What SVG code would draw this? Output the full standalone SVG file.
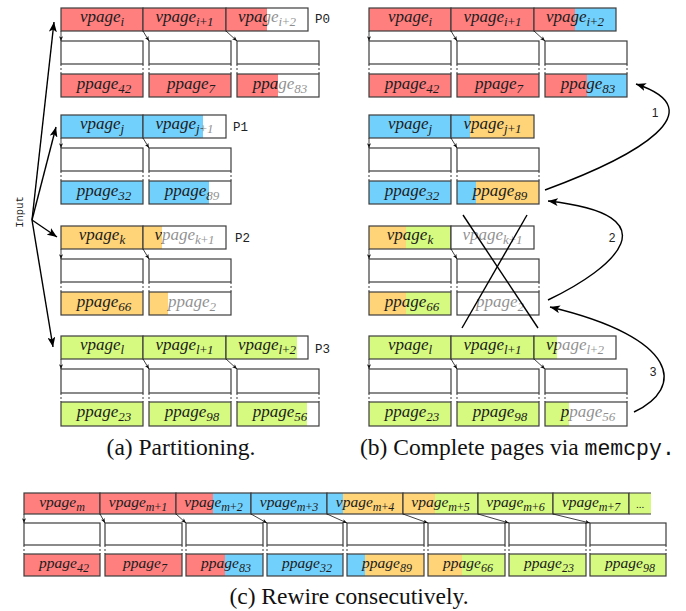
<svg xmlns="http://www.w3.org/2000/svg" width="686" height="611" viewBox="0 0 686 611">
<defs>
<marker id="ah" viewBox="0 0 10 8" refX="10" refY="4" markerWidth="10" markerHeight="8" markerUnits="userSpaceOnUse" orient="auto"><path d="M0,0 L10,4 L0,8 L2.5,4 z" fill="#000"/></marker>
<marker id="sa" viewBox="0 0 6 5" refX="6" refY="2.5" markerWidth="5" markerHeight="4" markerUnits="userSpaceOnUse" orient="auto"><path d="M0,0 L6,2.5 L0,5 L1.5,2.5 z" fill="#111"/></marker>
<style>
.w{fill:#fff}
.r{fill:#ff7f7f}
.b{fill:#72d0fc}
.o{fill:#ffd478}
.g{fill:#d6fa7f}
.f{fill:#fff;fill-opacity:.5}
.bx{fill:none;stroke:#3c3c3c;stroke-width:1.2}
.mb{fill:#fff;stroke:#3c3c3c;stroke-width:1.2}
.t{font-family:"Liberation Serif",serif;font-style:italic;font-size:17px;fill:#1c1c1c;text-anchor:middle}
.tc{font-size:15.5px}
.s{font-size:13px}
.sc{font-size:12px}
.u{font-style:normal}
.dl{stroke:#3c3c3c;stroke-width:1;stroke-dasharray:2 2;fill:none}
.sm{stroke:#111;stroke-width:0.8;fill:none;marker-end:url(#sa)}
.ar{stroke:#000;stroke-width:1.4;fill:none;marker-end:url(#ah)}
.mono{font-family:"Liberation Mono",monospace;fill:#222}
.cap{font-family:"Liberation Serif",serif;font-size:23.5px;fill:#111}
.num{font-family:"Liberation Sans",sans-serif;font-size:12px;fill:#222;text-anchor:middle}
</style>
</defs>

<!-- ================= Panel (a) ================= -->
<g id="panel-a">
<!-- P0 -->
<g id="a0-v0"><rect class="r" x="61" y="8" width="82" height="23"/><text class="t" x="102" y="22">vpage<tspan class="s" dy="4">i</tspan></text><rect class="bx" x="61" y="8" width="82" height="23"/></g>
<g id="a0-v1"><rect class="r" x="143" y="8" width="83" height="23"/><text class="t" x="184.5" y="22">vpage<tspan class="s" dy="4">i<tspan class="u">+</tspan>1</tspan></text><rect class="bx" x="143" y="8" width="83" height="23"/></g>
<g id="a0-v2"><rect class="w" x="226" y="8" width="82" height="23"/><rect class="r" x="226" y="8" width="41" height="23"/><text class="t" x="267" y="22">vpage<tspan class="s" dy="4">i<tspan class="u">+</tspan>2</tspan></text><rect class="f" x="267" y="8" width="41" height="23"/><rect class="bx" x="226" y="8" width="82" height="23"/></g>
<g id="a0-m0"><rect class="mb" x="61" y="41" width="82" height="23"/></g>
<g id="a0-m1"><rect class="mb" x="149" y="41" width="82" height="23"/></g>
<g id="a0-m2"><rect class="mb" x="237" y="41" width="82" height="23"/></g>
<g id="a0-p0"><rect class="r" x="61" y="74" width="82" height="23"/><text class="t" x="104" y="88.5">ppage<tspan class="s" dy="4">42</tspan></text><rect class="bx" x="61" y="74" width="82" height="23"/></g>
<g id="a0-p1"><rect class="r" x="149" y="74" width="82" height="23"/><text class="t" x="191" y="88.5">ppage<tspan class="s" dy="4">7</tspan></text><rect class="bx" x="149" y="74" width="82" height="23"/></g>
<g id="a0-p2"><rect class="w" x="237" y="74" width="82" height="23"/><rect class="r" x="237" y="74" width="41" height="23"/><text class="t" x="280" y="88.5">ppage<tspan class="s" dy="4">83</tspan></text><rect class="f" x="278" y="74" width="41" height="23"/><rect class="bx" x="237" y="74" width="82" height="23"/></g>
<text class="mono" x="315" y="23" font-size="12.5">P0</text>

<!-- P1 -->
<g id="a1-v0"><rect class="b" x="61" y="115" width="82" height="23"/><text class="t" x="102" y="129">vpage<tspan class="s" dy="4">j</tspan></text><rect class="bx" x="61" y="115" width="82" height="23"/></g>
<g id="a1-v1"><rect class="w" x="143" y="115" width="83" height="23"/><rect class="b" x="143" y="115" width="60" height="23"/><text class="t" x="184.5" y="129">vpage<tspan class="s" dy="4">j<tspan class="u">+</tspan>1</tspan></text><rect class="f" x="203" y="115" width="23" height="23"/><rect class="bx" x="143" y="115" width="83" height="23"/></g>
<g id="a1-m0"><rect class="mb" x="61" y="148" width="82" height="23"/></g>
<g id="a1-m1"><rect class="mb" x="149" y="148" width="82" height="23"/></g>
<g id="a1-p0"><rect class="b" x="61" y="181" width="82" height="23"/><text class="t" x="104" y="195.5">ppage<tspan class="s" dy="4">32</tspan></text><rect class="bx" x="61" y="181" width="82" height="23"/></g>
<g id="a1-p1"><rect class="w" x="149" y="181" width="82" height="23"/><rect class="b" x="149" y="181" width="60" height="23"/><text class="t" x="192" y="195.5">ppage<tspan class="s" dy="4">89</tspan></text><rect class="f" x="209" y="181" width="22" height="23"/><rect class="bx" x="149" y="181" width="82" height="23"/></g>
<text class="mono" x="233" y="131" font-size="12.5">P1</text>

<!-- P2 -->
<g id="a2-v0"><rect class="o" x="61" y="226" width="82" height="23"/><text class="t" x="102" y="240">vpage<tspan class="s" dy="4">k</tspan></text><rect class="bx" x="61" y="226" width="82" height="23"/></g>
<g id="a2-v1"><rect class="w" x="143" y="226" width="83" height="23"/><rect class="o" x="143" y="226" width="19" height="23"/><text class="t" x="184.5" y="240">vpage<tspan class="s" dy="4">k<tspan class="u">+</tspan>1</tspan></text><rect class="f" x="162" y="226" width="64" height="23"/><rect class="bx" x="143" y="226" width="83" height="23"/></g>
<g id="a2-m0"><rect class="mb" x="61" y="259" width="82" height="23"/></g>
<g id="a2-m1"><rect class="mb" x="149" y="259" width="82" height="23"/></g>
<g id="a2-p0"><rect class="o" x="61" y="292" width="82" height="23"/><text class="t" x="104" y="306.5">ppage<tspan class="s" dy="4">66</tspan></text><rect class="bx" x="61" y="292" width="82" height="23"/></g>
<g id="a2-p1"><rect class="w" x="149" y="292" width="82" height="23"/><rect class="o" x="149" y="292" width="19" height="23"/><text class="t" x="192" y="306.5">ppage<tspan class="s" dy="4">2</tspan></text><rect class="f" x="168" y="292" width="63" height="23"/><rect class="bx" x="149" y="292" width="82" height="23"/></g>
<text class="mono" x="235" y="242" font-size="12.5">P2</text>

<!-- P3 -->
<g id="a3-v0"><rect class="g" x="61" y="336" width="82" height="23"/><text class="t" x="102" y="350">vpage<tspan class="s" dy="4">l</tspan></text><rect class="bx" x="61" y="336" width="82" height="23"/></g>
<g id="a3-v1"><rect class="g" x="143" y="336" width="83" height="23"/><text class="t" x="184.5" y="350">vpage<tspan class="s" dy="4">l<tspan class="u">+</tspan>1</tspan></text><rect class="bx" x="143" y="336" width="83" height="23"/></g>
<g id="a3-v2"><rect class="w" x="226" y="336" width="82" height="23"/><rect class="g" x="226" y="336" width="71" height="23"/><text class="t" x="267" y="350">vpage<tspan class="s" dy="4">l<tspan class="u">+</tspan>2</tspan></text><rect class="f" x="297" y="336" width="11" height="23"/><rect class="bx" x="226" y="336" width="82" height="23"/></g>
<g id="a3-m0"><rect class="mb" x="61" y="369" width="82" height="24"/></g>
<g id="a3-m1"><rect class="mb" x="149" y="369" width="82" height="24"/></g>
<g id="a3-m2"><rect class="mb" x="237" y="369" width="82" height="24"/></g>
<g id="a3-p0"><rect class="g" x="61" y="402" width="82" height="24"/><text class="t" x="104" y="417">ppage<tspan class="s" dy="4">23</tspan></text><rect class="bx" x="61" y="402" width="82" height="24"/></g>
<g id="a3-p1"><rect class="g" x="149" y="402" width="82" height="24"/><text class="t" x="192" y="417">ppage<tspan class="s" dy="4">98</tspan></text><rect class="bx" x="149" y="402" width="82" height="24"/></g>
<g id="a3-p2"><rect class="w" x="237" y="402" width="82" height="24"/><rect class="g" x="237" y="402" width="70" height="24"/><text class="t" x="280" y="417">ppage<tspan class="s" dy="4">56</tspan></text><rect class="f" x="307" y="402" width="12" height="24"/><rect class="bx" x="237" y="402" width="82" height="24"/></g>
<text class="mono" x="315" y="353" font-size="12.5">P3</text>

<text class="mono" font-size="10.5" text-anchor="middle" transform="translate(23,212) rotate(-90)">Input</text>
</g>

<!-- ================= Panel (b) ================= -->
<g id="panel-b">
<!-- P0 -->
<g id="b0-v0"><rect class="r" x="369" y="8" width="82" height="23"/><text class="t" x="410" y="22">vpage<tspan class="s" dy="4">i</tspan></text><rect class="bx" x="369" y="8" width="82" height="23"/></g>
<g id="b0-v1"><rect class="r" x="451" y="8" width="83" height="23"/><text class="t" x="492.5" y="22">vpage<tspan class="s" dy="4">i<tspan class="u">+</tspan>1</tspan></text><rect class="bx" x="451" y="8" width="83" height="23"/></g>
<g id="b0-v2"><rect class="b" x="534" y="8" width="82" height="23"/><rect class="r" x="534" y="8" width="41" height="23"/><text class="t" x="575" y="22">vpage<tspan class="s" dy="4">i<tspan class="u">+</tspan>2</tspan></text><rect class="bx" x="534" y="8" width="82" height="23"/></g>
<g id="b0-m0"><rect class="mb" x="369" y="41" width="82" height="23"/></g>
<g id="b0-m1"><rect class="mb" x="457" y="41" width="82" height="23"/></g>
<g id="b0-m2"><rect class="mb" x="545" y="41" width="82" height="23"/></g>
<g id="b0-p0"><rect class="r" x="369" y="74" width="82" height="23"/><text class="t" x="412" y="88.5">ppage<tspan class="s" dy="4">42</tspan></text><rect class="bx" x="369" y="74" width="82" height="23"/></g>
<g id="b0-p1"><rect class="r" x="457" y="74" width="82" height="23"/><text class="t" x="499" y="88.5">ppage<tspan class="s" dy="4">7</tspan></text><rect class="bx" x="457" y="74" width="82" height="23"/></g>
<g id="b0-p2"><rect class="b" x="545" y="74" width="82" height="23"/><rect class="r" x="545" y="74" width="42" height="23"/><text class="t" x="588" y="88.5">ppage<tspan class="s" dy="4">83</tspan></text><rect class="bx" x="545" y="74" width="82" height="23"/></g>

<!-- P1 -->
<g id="b1-v0"><rect class="b" x="369" y="115" width="82" height="23"/><text class="t" x="410" y="129">vpage<tspan class="s" dy="4">j</tspan></text><rect class="bx" x="369" y="115" width="82" height="23"/></g>
<g id="b1-v1"><rect class="o" x="451" y="115" width="83" height="23"/><rect class="b" x="451" y="115" width="19" height="23"/><text class="t" x="492.5" y="129">vpage<tspan class="s" dy="4">j<tspan class="u">+</tspan>1</tspan></text><rect class="bx" x="451" y="115" width="83" height="23"/></g>
<g id="b1-m0"><rect class="mb" x="369" y="148" width="82" height="23"/></g>
<g id="b1-m1"><rect class="mb" x="457" y="148" width="82" height="23"/></g>
<g id="b1-p0"><rect class="b" x="369" y="181" width="82" height="23"/><text class="t" x="412" y="195.5">ppage<tspan class="s" dy="4">32</tspan></text><rect class="bx" x="369" y="181" width="82" height="23"/></g>
<g id="b1-p1"><rect class="o" x="457" y="181" width="82" height="23"/><rect class="b" x="457" y="181" width="19" height="23"/><text class="t" x="500" y="195.5">ppage<tspan class="s" dy="4">89</tspan></text><rect class="bx" x="457" y="181" width="82" height="23"/></g>

<!-- P2 -->
<g id="b2-v0"><rect class="g" x="369" y="226" width="82" height="23"/><rect class="o" x="369" y="226" width="37" height="23"/><text class="t" x="410" y="240">vpage<tspan class="s" dy="4">k</tspan></text><rect class="bx" x="369" y="226" width="82" height="23"/></g>
<g id="b2-v1"><rect class="w" x="451" y="226" width="83" height="23"/><text class="t" x="492.5" y="240">vpage<tspan class="s" dy="4">k<tspan class="u">+</tspan>1</tspan></text><rect class="f" x="451" y="226" width="83" height="23"/><rect class="bx" x="451" y="226" width="83" height="23"/></g>
<g id="b2-m0"><rect class="mb" x="369" y="259" width="82" height="23"/></g>
<g id="b2-m1"><rect class="mb" x="457" y="259" width="82" height="23"/></g>
<g id="b2-p0"><rect class="g" x="369" y="292" width="82" height="23"/><rect class="o" x="369" y="292" width="37" height="23"/><text class="t" x="412" y="306.5">ppage<tspan class="s" dy="4">66</tspan></text><rect class="bx" x="369" y="292" width="82" height="23"/></g>
<g id="b2-p1"><rect class="w" x="457" y="292" width="82" height="23"/><text class="t" x="500" y="306.5">ppage<tspan class="s" dy="4">2</tspan></text><rect class="f" x="457" y="292" width="82" height="23"/><rect class="bx" x="457" y="292" width="82" height="23"/></g>

<!-- P3 -->
<g id="b3-v0"><rect class="g" x="369" y="336" width="82" height="23"/><text class="t" x="410" y="350">vpage<tspan class="s" dy="4">l</tspan></text><rect class="bx" x="369" y="336" width="82" height="23"/></g>
<g id="b3-v1"><rect class="g" x="451" y="336" width="83" height="23"/><text class="t" x="492.5" y="350">vpage<tspan class="s" dy="4">l<tspan class="u">+</tspan>1</tspan></text><rect class="bx" x="451" y="336" width="83" height="23"/></g>
<g id="b3-v2"><rect class="w" x="534" y="336" width="82" height="23"/><rect class="g" x="534" y="336" width="23" height="23"/><text class="t" x="575" y="350">vpage<tspan class="s" dy="4">l<tspan class="u">+</tspan>2</tspan></text><rect class="f" x="557" y="336" width="59" height="23"/><rect class="bx" x="534" y="336" width="82" height="23"/></g>
<g id="b3-m0"><rect class="mb" x="369" y="369" width="82" height="24"/></g>
<g id="b3-m1"><rect class="mb" x="457" y="369" width="82" height="24"/></g>
<g id="b3-m2"><rect class="mb" x="545" y="369" width="82" height="24"/></g>
<g id="b3-p0"><rect class="g" x="369" y="402" width="82" height="24"/><text class="t" x="412" y="417">ppage<tspan class="s" dy="4">23</tspan></text><rect class="bx" x="369" y="402" width="82" height="24"/></g>
<g id="b3-p1"><rect class="g" x="457" y="402" width="82" height="24"/><text class="t" x="500" y="417">ppage<tspan class="s" dy="4">98</tspan></text><rect class="bx" x="457" y="402" width="82" height="24"/></g>
<g id="b3-p2"><rect class="w" x="545" y="402" width="82" height="24"/><rect class="g" x="545" y="402" width="24" height="24"/><text class="t" x="588" y="417">ppage<tspan class="s" dy="4">56</tspan></text><rect class="f" x="569" y="402" width="58" height="24"/><rect class="bx" x="545" y="402" width="82" height="24"/></g>

<g id="crossout" stroke="#000" stroke-width="1.4">
<line x1="463" y1="215" x2="538" y2="328"/>
<line x1="527" y1="215" x2="462" y2="328"/>
</g>
</g>

<!-- ================= Panel (c) ================= -->
<g id="panel-c">
<g id="c-v0"><rect class="r" x="24" y="493" width="76" height="21"/><text class="t tc" x="62" y="506.5">vpage<tspan class="sc" dy="4">m</tspan></text><rect class="bx" x="24" y="493" width="76" height="21"/></g>
<g id="c-v1"><rect class="r" x="100" y="493" width="76" height="21"/><text class="t tc" x="138" y="506.5">vpage<tspan class="sc" dy="4">m<tspan class="u">+</tspan>1</tspan></text><rect class="bx" x="100" y="493" width="76" height="21"/></g>
<g id="c-v2"><rect class="b" x="176" y="493" width="75" height="21"/><rect class="r" x="176" y="493" width="37" height="21"/><text class="t tc" x="213.5" y="506.5">vpage<tspan class="sc" dy="4">m<tspan class="u">+</tspan>2</tspan></text><rect class="bx" x="176" y="493" width="75" height="21"/></g>
<g id="c-v3"><rect class="b" x="251" y="493" width="76" height="21"/><text class="t tc" x="289" y="506.5">vpage<tspan class="sc" dy="4">m<tspan class="u">+</tspan>3</tspan></text><rect class="bx" x="251" y="493" width="76" height="21"/></g>
<g id="c-v4"><rect class="o" x="327" y="493" width="76" height="21"/><rect class="b" x="327" y="493" width="16" height="21"/><text class="t tc" x="365" y="506.5">vpage<tspan class="sc" dy="4">m<tspan class="u">+</tspan>4</tspan></text><rect class="bx" x="327" y="493" width="76" height="21"/></g>
<g id="c-v5"><rect class="g" x="403" y="493" width="75" height="21"/><rect class="o" x="403" y="493" width="32" height="21"/><text class="t tc" x="440.5" y="506.5">vpage<tspan class="sc" dy="4">m<tspan class="u">+</tspan>5</tspan></text><rect class="bx" x="403" y="493" width="75" height="21"/></g>
<g id="c-v6"><rect class="g" x="478" y="493" width="75" height="21"/><text class="t tc" x="515.5" y="506.5">vpage<tspan class="sc" dy="4">m<tspan class="u">+</tspan>6</tspan></text><rect class="bx" x="478" y="493" width="75" height="21"/></g>
<g id="c-v7"><rect class="g" x="553" y="493" width="76" height="21"/><text class="t tc" x="591" y="506.5">vpage<tspan class="sc" dy="4">m<tspan class="u">+</tspan>7</tspan></text><rect class="bx" x="553" y="493" width="76" height="21"/></g>
<g id="c-v8"><rect class="g" x="629" y="493" width="22" height="21"/><text x="640" y="508" font-family="Liberation Serif, serif" font-size="11" fill="#222" text-anchor="middle">...</text><path d="M629,493 H651 M629,514 H651 M629,493 V514" fill="none" stroke="#3c3c3c" stroke-width="1.2"/></g>

<g id="c-m0"><rect class="mb" x="24" y="523" width="76" height="22"/></g>
<g id="c-m1"><rect class="mb" x="105" y="523" width="77" height="22"/></g>
<g id="c-m2"><rect class="mb" x="186" y="523" width="77" height="22"/></g>
<g id="c-m3"><rect class="mb" x="267" y="523" width="76" height="22"/></g>
<g id="c-m4"><rect class="mb" x="347" y="523" width="77" height="22"/></g>
<g id="c-m5"><rect class="mb" x="428" y="523" width="77" height="22"/></g>
<g id="c-m6"><rect class="mb" x="509" y="523" width="77" height="22"/></g>
<g id="c-m7"><rect class="mb" x="590" y="523" width="76" height="22"/></g>

<g id="c-p0"><rect class="r" x="24" y="554" width="76" height="22"/><text class="t tc" x="64" y="567.5">ppage<tspan class="sc" dy="4">42</tspan></text><rect class="bx" x="24" y="554" width="76" height="22"/></g>
<g id="c-p1"><rect class="r" x="105" y="554" width="77" height="22"/><text class="t tc" x="145" y="567.5">ppage<tspan class="sc" dy="4">7</tspan></text><rect class="bx" x="105" y="554" width="77" height="22"/></g>
<g id="c-p2"><rect class="b" x="186" y="554" width="77" height="22"/><rect class="r" x="186" y="554" width="39" height="22"/><text class="t tc" x="226" y="567.5">ppage<tspan class="sc" dy="4">83</tspan></text><rect class="bx" x="186" y="554" width="77" height="22"/></g>
<g id="c-p3"><rect class="b" x="267" y="554" width="76" height="22"/><text class="t tc" x="307" y="567.5">ppage<tspan class="sc" dy="4">32</tspan></text><rect class="bx" x="267" y="554" width="76" height="22"/></g>
<g id="c-p4"><rect class="o" x="347" y="554" width="77" height="22"/><rect class="b" x="347" y="554" width="18" height="22"/><text class="t tc" x="387" y="567.5">ppage<tspan class="sc" dy="4">89</tspan></text><rect class="bx" x="347" y="554" width="77" height="22"/></g>
<g id="c-p5"><rect class="g" x="428" y="554" width="77" height="22"/><rect class="o" x="428" y="554" width="34" height="22"/><text class="t tc" x="468" y="567.5">ppage<tspan class="sc" dy="4">66</tspan></text><rect class="bx" x="428" y="554" width="77" height="22"/></g>
<g id="c-p6"><rect class="g" x="509" y="554" width="77" height="22"/><text class="t tc" x="549" y="567.5">ppage<tspan class="sc" dy="4">23</tspan></text><rect class="bx" x="509" y="554" width="77" height="22"/></g>
<g id="c-p7"><rect class="g" x="590" y="554" width="76" height="22"/><text class="t tc" x="630" y="567.5">ppage<tspan class="sc" dy="4">98</tspan></text><rect class="bx" x="590" y="554" width="76" height="22"/></g>
</g>

<!-- dashed continuation marks between frame and physical page -->
<g id="gaps">
<path class="dl" d="M61,64V74 M143,64V74 M149,64V74 M231,64V74 M237,64V74 M319,64V74 M61,171V181 M143,171V181 M149,171V181 M231,171V181 M61,282V292 M143,282V292 M149,282V292 M231,282V292 M61,393V402 M143,393V402 M149,393V402 M231,393V402 M237,393V402 M319,393V402"/>
<path class="dl" d="M369,64V74 M451,64V74 M457,64V74 M539,64V74 M545,64V74 M627,64V74 M369,171V181 M451,171V181 M457,171V181 M539,171V181 M369,282V292 M451,282V292 M457,282V292 M539,282V292 M369,393V402 M451,393V402 M457,393V402 M539,393V402 M545,393V402 M627,393V402"/>
<path class="dl" d="M24,545V554 M100,545V554 M105,545V554 M182,545V554 M186,545V554 M263,545V554 M267,545V554 M343,545V554 M347,545V554 M424,545V554 M428,545V554 M505,545V554 M509,545V554 M586,545V554 M590,545V554 M666,545V554"/>
</g>

<!-- ================= Connectors ================= -->
<g id="connectors">
<!-- input arrows -->
<path class="ar" d="M32,220 L54,22"/>
<path class="ar" d="M32,220 L56,127"/>
<path class="ar" d="M32,220 L57,237"/>
<path class="ar" d="M32,220 L53,347"/>
<!-- small page-table arrows (a) -->
<path class="sm" d="M61,31 L61,41"/>
<path class="sm" d="M143,31 L149,41"/>
<path class="sm" d="M226,31 L237,41"/>
<path class="sm" d="M61,138 L61,148"/>
<path class="sm" d="M143,138 L149,148"/>
<path class="sm" d="M61,249 L61,259"/>
<path class="sm" d="M143,249 L149,259"/>
<path class="sm" d="M61,359 L61,369"/>
<path class="sm" d="M143,359 L149,369"/>
<path class="sm" d="M226,359 L237,369"/>
<!-- (b) -->
<path class="sm" d="M369,31 L369,41"/>
<path class="sm" d="M451,31 L457,41"/>
<path class="sm" d="M534,31 L545,41"/>
<path class="sm" d="M369,138 L369,148"/>
<path class="sm" d="M451,138 L457,148"/>
<path class="sm" d="M369,249 L369,259"/>
<path class="sm" d="M451,249 L457,259"/>
<path class="sm" d="M369,359 L369,369"/>
<path class="sm" d="M451,359 L457,369"/>
<path class="sm" d="M534,359 L545,369"/>
<!-- (c) -->
<path class="sm" d="M24,514 L24,523"/>
<path class="sm" d="M100,514 L105,523"/>
<path class="sm" d="M176,514 L186,523"/>
<path class="sm" d="M251,514 L267,523"/>
<path class="sm" d="M327,514 L347,523"/>
<path class="sm" d="M403,514 L428,523"/>
<path class="sm" d="M478,514 L509,523"/>
<path class="sm" d="M553,514 L590,523"/>
<!-- memcpy arrows -->
<path class="ar" d="M545,190 C640,155 715,110 636,84"/>
<path class="ar" d="M548,300 C615,268 675,215 548,201"/>
<path class="ar" d="M634,412 C685,388 680,338 550,307"/>
<text class="num" x="655" y="117">1</text>
<text class="num" x="612" y="242">2</text>
<text class="num" x="653" y="376">3</text>
</g>

<!-- captions -->
<text class="cap" x="181" y="455" text-anchor="middle">(a) Partitioning.</text>
<text class="cap" x="360" y="455">(b) Complete pages via <tspan font-family="Liberation Mono, monospace" font-size="21.5">memcpy.</tspan></text>
<text class="cap" x="349" y="604" text-anchor="middle">(c) Rewire consecutively.</text>
</svg>
